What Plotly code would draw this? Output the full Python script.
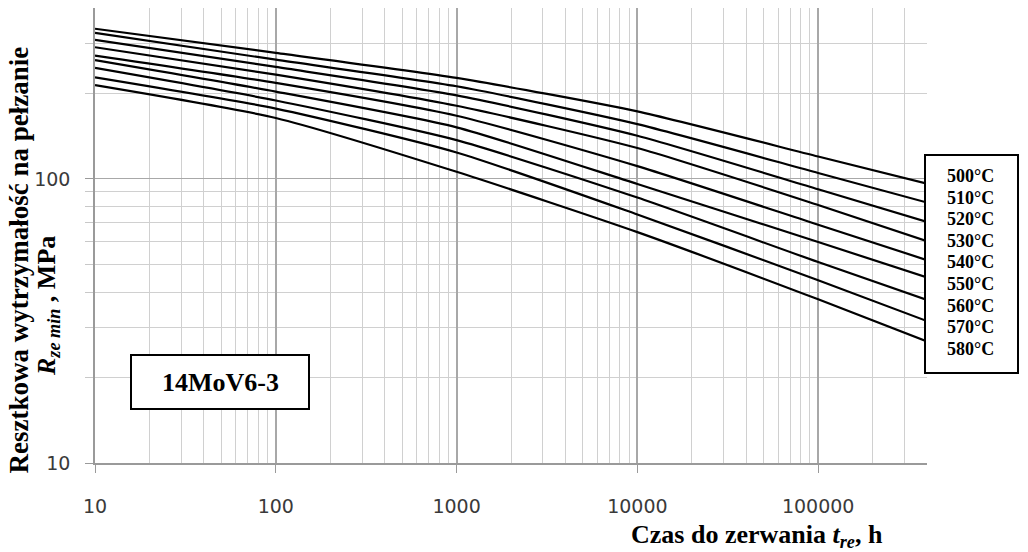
import plotly.graph_objects as go

# ---- data ----
time_h = [10, 100, 1000, 10000, 100000, 400000]
temps_c = [500, 510, 520, 530, 540, 550, 560, 570, 580]
r500 = [338, 278, 227, 173, 120, 96.3]
r510 = [327, 263, 212, 156, 105, 82.6]
r520 = [309, 248, 197, 142, 92, 70.6]
r530 = [291, 233, 181, 128.5, 81, 60.4]
r540 = [272, 218, 167, 111, 69, 51.8]
r550 = [262, 203, 152, 96, 60, 45]
r560 = [246, 189, 137, 86, 51, 37.5]
r570 = [228, 177, 124, 75, 44, 31.6]
r580 = [214, 164, 106, 65, 37.7, 26.8]
series = [r500, r510, r520, r530, r540, r550, r560, r570, r580]

x_major = [10, 100, 1000, 10000, 100000]
x_minor = [m * d for d in [10, 100, 1000, 10000, 100000] for m in range(2, 10) if m * d <= 400000]
y_major = [10, 100]
y_minor = [20, 30, 40, 50, 60, 70, 80, 90, 200, 300, 400]

material = "14MoV6-3"

fig = go.Figure()
for t, vals in zip(temps_c, series):
    fig.add_trace(go.Scatter(x=time_h, y=vals, mode="lines", name=f"{t}°C",
                             line=dict(color="black", width=2.2, shape="spline", smoothing=0.6),
                             showlegend=False))

# page body has an 8px margin: figure is drawn 8px right/down of the window origin
OFF = 8
W, H = 1028 - OFF, 552 - OFF
L, T = 95 - OFF, 8 - OFF
PR, PB = 927 - OFF, 463 - OFF
R, B = W - PR, H - PB
pw, ph = PR - L, PB - T

def px(x):  # x in window pixels -> paper
    return (x - OFF - L) / pw

def py(y):  # y in window pixels -> paper
    return (PB - (y - OFF)) / ph

serif = "Liberation Serif, Times New Roman, serif"
sans = "DejaVu Sans, Verdana, sans-serif"

fig.update_layout(
    width=W, height=H,
    margin=dict(l=L, r=R, t=T, b=B, autoexpand=False),
    plot_bgcolor="white", paper_bgcolor="white",
    xaxis=dict(
        type="log", range=[1, 5.602], automargin=False,
        tickvals=x_major, ticktext=[str(v) for v in x_major],
        ticks="outside", ticklen=8, tickcolor="#9a9a9a", tickwidth=1,
        showgrid=True, gridcolor="#a8a8a8", gridwidth=1.6,
        minor=dict(tickvals=x_minor, showgrid=True, gridcolor="#d0d0d0", gridwidth=1, ticks=""),
        showline=True, linecolor="#9a9a9a", linewidth=1.5,
        tickfont=dict(family=sans, size=19, color="#3a3a3a"),
        ticklabelstandoff=17,
        zeroline=False,
    ),
    yaxis=dict(
        type="log", range=[1, 2.602], automargin=False,
        tickvals=y_major, ticktext=[str(v) for v in y_major],
        ticks="outside", ticklen=8, tickcolor="#9a9a9a", tickwidth=1,
        showgrid=True, gridcolor="#a8a8a8", gridwidth=1.3,
        minor=dict(tickvals=y_minor, showgrid=True, gridcolor="#d0d0d0", gridwidth=1,
                   ticks="outside", ticklen=8, tickcolor="#c8c8c8"),
        showline=True, linecolor="#9a9a9a", linewidth=1.5,
        tickfont=dict(family=sans, size=19, color="#3a3a3a"),
        ticklabelstandoff=11,
        zeroline=False,
    ),
)

shapes = []
# legend box
shapes.append(dict(type="rect", xref="paper", yref="paper",
                   x0=px(925), x1=px(1018), y0=py(373), y1=py(155),
                   line=dict(color="black", width=2), fillcolor="white", layer="above"))
# material box
shapes.append(dict(type="rect", xref="paper", yref="paper",
                   x0=px(131), x1=px(309), y0=py(409), y1=py(355),
                   line=dict(color="black", width=2), fillcolor="white", layer="above"))
fig.update_layout(shapes=shapes)

ann = []
for i, t in enumerate(temps_c):
    ann.append(dict(xref="paper", yref="paper", x=px(970), y=py(176 + i * 21.6),
                    text=f"<b>{t}°C</b>", showarrow=False,
                    font=dict(family=serif, size=18, color="black"),
                    xanchor="center", yanchor="middle"))
ann.append(dict(xref="paper", yref="paper", x=px(220), y=py(382),
                text=f"<b>{material}</b>", showarrow=False,
                font=dict(family=serif, size=26, color="black"),
                xanchor="center", yanchor="middle"))
ann.append(dict(xref="paper", yref="paper", x=px(757), y=py(536),
                text="<b>Czas do zerwania <i>t</i><sub><i>re</i></sub>, h</b>", showarrow=False,
                font=dict(family=serif, size=26, color="black"),
                xanchor="center", yanchor="middle"))
ann.append(dict(xref="paper", yref="paper", x=px(18.5), y=py(260),
                text="<b>Resztkowa wytrzymałość na pełzanie</b>", showarrow=False,
                textangle=-90, borderpad=0,
                font=dict(family=serif, size=27, color="black"),
                xanchor="center", yanchor="middle"))
ann.append(dict(xref="paper", yref="paper", x=px(48), y=py(306),
                text="<b><i>R</i><sub><i>ze min</i></sub> , MPa</b>", showarrow=False,
                textangle=-90,
                font=dict(family=serif, size=26, color="black"),
                xanchor="center", yanchor="middle"))
fig.update_layout(annotations=ann)

fig.write_html("out.html")
